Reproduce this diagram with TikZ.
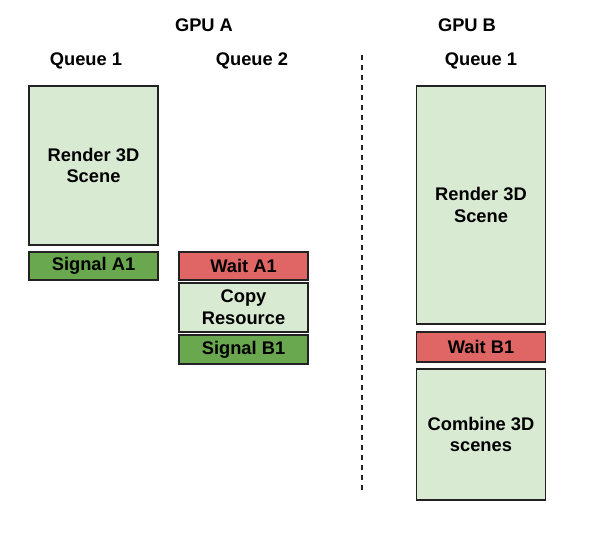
\documentclass[tikz,border=0pt]{standalone}
\usepackage{fontspec}
\setmainfont{Liberation Sans}
\definecolor{lightg}{HTML}{D9EAD3}
\definecolor{darkg}{HTML}{6AA84F}
\definecolor{redw}{HTML}{E06666}
\definecolor{edge}{HTML}{222222}
\begin{document}
\begin{tikzpicture}[x=1pt,y=-1pt,
  font=\fontsize{18.3}{21.7}\selectfont\bfseries,
  blk/.style={draw=edge,line width=1.4pt,inner sep=0pt,align=center},
  lg/.style={blk,fill=lightg},
  dg/.style={blk,fill=darkg},
  rw/.style={blk,fill=redw},
  lbl/.style={inner sep=0pt}]
\useasboundingbox (0,0) rectangle (590,538);
\node[lbl] (gpua) at (204,25) {GPU A};
\node[lbl] (gpub) at (467,25) {GPU B};
\node[lbl] (qa1) at (86,61) {Queue 1};
\node[lbl] (qa2) at (252,61) {Queue 2};
\node[lbl] (qb1) at (481,61) {Queue 1};
% GPU A queue 1
\node[lg,minimum width=129pt,minimum height=159pt] (ra) at (93.5,165.5) {Render 3D\\Scene};
\node[dg,minimum width=129pt,minimum height=28pt] (sa1) at (93.5,266) {Signal A1};
% GPU A queue 2
\node[rw,minimum width=129pt,minimum height=28pt] (wa1) at (243.5,266) {Wait A1};
\node[lg,minimum width=129pt,minimum height=49pt] (copy) at (243.5,307.5) {Copy\\Resource};
\node[dg,minimum width=129pt,minimum height=29pt] (sb1) at (243.5,349.5) {Signal B1};
% GPU B
\node[lg,minimum width=129pt,minimum height=238pt] (rb) at (481,205) {Render 3D\\Scene};
\node[rw,minimum width=129pt,minimum height=30pt] (wb1) at (481,347) {Wait B1};
\node[lg,minimum width=129pt,minimum height=131pt] (comb) at (481,434.5) {Combine 3D\\scenes};
% divider
\coordinate (dtop) at (362,55);
\coordinate (dbot) at (362,492);
\draw[edge,line width=1.5pt,dash pattern=on 5pt off 5pt] (dtop) -- (dbot);
\end{tikzpicture}
\end{document}
